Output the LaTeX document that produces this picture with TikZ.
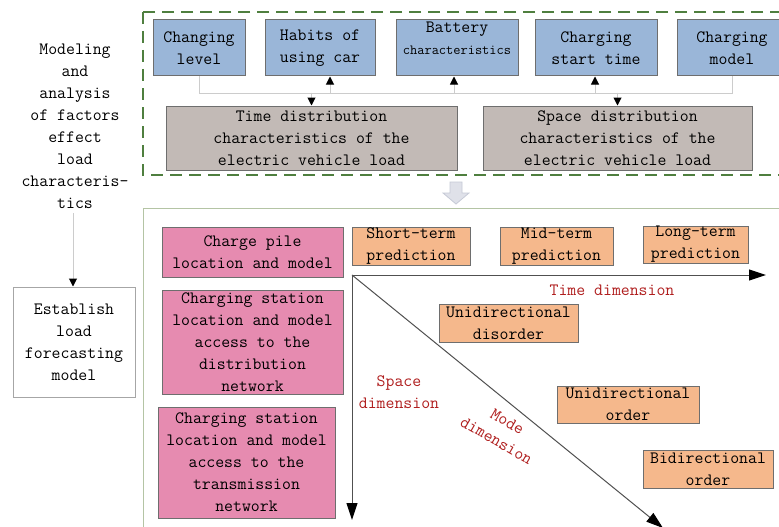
\documentclass[tikz,border=0pt]{standalone}
\usetikzlibrary{arrows.meta,calc}

\definecolor{factorblue}{HTML}{9AB6D8}
\definecolor{distgrey}{HTML}{C2BAB6}
\definecolor{sitepink}{HTML}{E68BB0}
\definecolor{termorange}{HTML}{F5B88C}
\definecolor{boxedge}{HTML}{6E6E6E}
\definecolor{busgrey}{HTML}{CCCCCC}
\definecolor{dashgreen}{HTML}{4F7F3F}
\definecolor{framegreen}{HTML}{B4C4A4}
\definecolor{dimred}{HTML}{B01E1E}
\definecolor{flowfill}{HTML}{DFE1E9}
\definecolor{flowedge}{HTML}{C6CAD6}
\definecolor{axisgrey}{HTML}{505050}

\newcommand{\mainsize}{\fontsize{17.3}{22}\selectfont}

\tikzset{
  boxbase/.style={draw=boxedge, line width=1pt, inner sep=0pt, align=center},
  factor/.style={boxbase, fill=factorblue},
  distbox/.style={boxbase, fill=distgrey},
  sitebox/.style={boxbase, fill=sitepink},
  termbox/.style={boxbase, fill=termorange},
  plainbox/.style={boxbase, fill=white, draw=gray!70},
  plaintext/.style={inner sep=0pt, align=center},
  dimtext/.style={inner sep=0pt, align=center, text=dimred},
  bus/.style={draw=busgrey, line width=1pt},
  bustip/.style={bus, -{Triangle[width=8pt,length=8pt,color=black]}},
  axis/.style={draw=axisgrey, line width=1pt, -{Triangle[width=11pt,length=17pt,color=black]}},
}

\begin{document}
\begin{tikzpicture}[x=1pt, y=-1pt, font=\ttfamily\mainsize]
  \useasboundingbox (0,0) rectangle (779,527);
  \fill[white] (0,0) rectangle (779,527);

  % upper group: influencing factors
  \draw[dashgreen, line width=2.6pt, dash pattern=on 12pt off 7pt]
    (143,12) rectangle (784,175);

  \node[factor, minimum width=92pt, minimum height=56pt] (lvl) at (199,48) {Changing\\level};
  \node[factor, minimum width=110pt, minimum height=56pt] (hab) at (320,48) {Habits of\\using car};
  \node[factor, minimum width=122pt, minimum height=56pt] (bat) at (457,48) {};
  \node[plaintext] (battext) at (457,38) {Battery\\{\fontsize{14}{22}\selectfont characteristics}};
  \node[factor, minimum width=122pt, minimum height=56pt] (start) at (596,48) {Charging\\start time};
  \node[factor, minimum width=110pt, minimum height=56pt] (mdl) at (732,48) {Charging\\model};

  \node[distbox, minimum width=291pt, minimum height=64pt] (tdist) at (311.5,138)
    {Time distribution\\characteristics of the\\electric vehicle load};
  \node[distbox, minimum width=269pt, minimum height=64pt] (sdist) at (617.5,138)
    {Space distribution\\characteristics of the\\electric vehicle load};

  % bus joining the factors to the distributions
  \coordinate (busL) at (199,93);
  \coordinate (busR) at (732,93);
  \draw[bus] (lvl.south) -- (busL) -- (busR) -- (mdl.south);
  \draw[bustip] ($(hab.south)+(10,17)$) -- ($(hab.south)+(10,0)$);
  \draw[bustip] ($(bat.south)+(-3,17)$) -- ($(bat.south)+(-3,0)$);
  \draw[bustip] ($(start.south)+(-1,17)$) -- ($(start.south)+(-1,0)$);
  \draw[bustip] ($(tdist.north)+(0,-13)$) -- (tdist.north);
  \draw[bustip] ($(sdist.north)+(0,-13)$) -- (sdist.north);

  % flow arrow between the two stages
  \filldraw[fill=flowfill, draw=flowedge, line width=0.8pt]
    (450,182) -- (462,182) -- (462,193) -- (469,193) -- (456,204)
    -- (443,193) -- (450,193) -- cycle;

  % left column
  \node[plaintext] (lefttxt) at (75,126)
    {Modeling\\and\\analysis\\of factors\\effect\\load\\characteris-\\tics};
  \node[plainbox, minimum width=122pt, minimum height=110pt] (est) at (74,342)
    {Establish\\load\\forecasting\\model};
  \draw[bustip] (73,213) -- (est.north -| 73,0);

  % lower group: forecasting dimensions
  \draw[framegreen, line width=1pt] (143,530) -- (143,208) -- (784,208);

  \node[sitebox, minimum width=181pt, minimum height=50pt] (pile) at (252.5,252)
    {Charge pile\\location and model};
  \node[sitebox, minimum width=181pt, minimum height=104pt] (dnet) at (252.5,342)
    {Charging station\\location and model\\access to the\\distribution\\network};
  \node[sitebox, minimum width=177pt, minimum height=111pt] (tnet) at (246.5,462.5)
    {Charging station\\location and model\\access to the\\transmission\\network};

  \node[termbox, minimum width=118pt, minimum height=38pt] (sterm) at (411,246) {Short-term\\prediction};
  \node[termbox, minimum width=113pt, minimum height=38pt] (mterm) at (556.5,246) {Mid-term\\prediction};
  \node[termbox, minimum width=105pt, minimum height=37pt] (lterm) at (695.5,244.5) {Long-term\\prediction};
  \node[termbox, minimum width=139pt, minimum height=38pt] (udis) at (508.5,323) {Unidirectional\\disorder};
  \node[termbox, minimum width=142pt, minimum height=37pt] (uord) at (628,404.5) {Unidirectional\\order};
  \node[termbox, minimum width=130pt, minimum height=38pt] (bord) at (708,469) {Bidirectional\\order};

  % axes
  \coordinate (O) at (352,275);
  \coordinate (tend) at (766,275);
  \coordinate (send) at (352,520);
  \coordinate (mend) at (663,528);
  \draw[axis] (O) -- (tend);
  \draw[axis] (O) -- (send);
  \draw[axis] (O) -- (mend);

  \node[dimtext] (tlbl) at (612,290) {Time dimension};
  \node[dimtext] (slbl) at (399,392) {Space\\dimension};
  \node[dimtext, rotate=-30] (mlbl) at (502,431) {Mode\\dimension};
\end{tikzpicture}
\end{document}
